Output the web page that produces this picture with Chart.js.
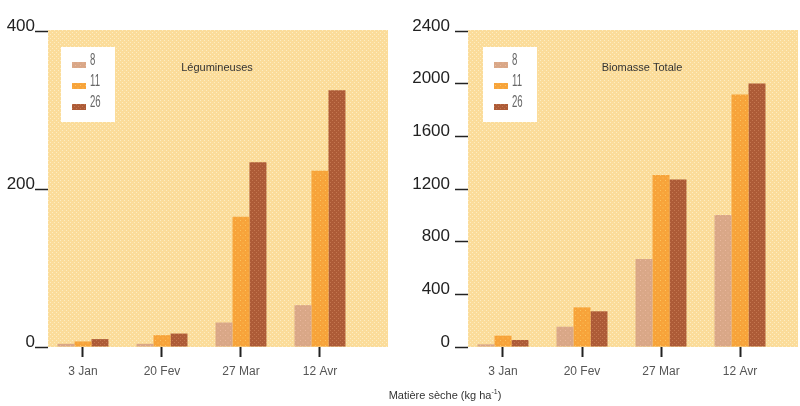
<!DOCTYPE html>
<html>
<head>
<meta charset="utf-8">
<script src="https://cdn.jsdelivr.net/npm/chart.js@4/dist/chart.umd.min.js"></script>
<style>
  body { margin: 0; background: #fff; }
  #page { position: relative; width: 800px; height: 406px; overflow: hidden; }
  .bloc { position: absolute; top: 0; width: 400px; height: 406px; }
  #axeX {
    position: absolute; left: 345px; width: 200px; top: 388px;
    text-align: center; font: 11px 'Liberation Sans', sans-serif; color: #333;
  }
  #axeX sup { font-size: 7px; }
</style>
</head>
<body>
<div id="page">
  <div class="bloc" style="left:0"><canvas id="legum" width="400" height="406"></canvas></div>
  <div class="bloc" style="left:400px"><canvas id="biom" width="400" height="406"></canvas></div>
  <div id="axeX">Matière sèche (kg ha<sup>-1</sup>)</div>
</div>
<script>
// dates de prélèvement et séries (8, 11, 26)
const dates = ['3 Jan', '20 Fev', '27 Mar', '12 Avr'];
const series = ['8', '11', '26'];

// Légumineuses
const legum8 = [4, 4, 31, 53];
const legum11 = [7, 15, 165, 223];
const legum26 = [10, 17, 234, 325];
const legumTicks = [0, 200, 400];

// Biomasse totale
const biom8 = [20, 154, 668, 1002];
const biom11 = [86, 301, 1306, 1918];
const biom26 = [53, 271, 1273, 2002];
const biomTicks = [0, 400, 800, 1200, 1600, 2000, 2400];

const police = "'Liberation Sans', Arial, sans-serif";

//------ petites trames pointillées ------//
function trame(fond, point, pas) {
  const c = document.createElement('canvas');
  c.width = pas; c.height = pas;
  const g = c.getContext('2d');
  g.fillStyle = fond;
  g.fillRect(0, 0, pas, pas);
  g.fillStyle = point;
  g.fillRect(0, 0, 1, 1);
  g.fillRect(pas / 2, pas / 2, 1, 1);
  return g.createPattern(c, 'repeat');
}
const fondTrame = trame('#fbdc9a', '#fdedc2', 4);
const couleurs = [
  trame('#d9a787', '#eab79d', 5),
  trame('#f7a33a', '#fcc35e', 5),
  trame('#ad5b37', '#c47650', 4)
];

//------ fond, légende et titre dans la zone du graphe ------//
const decor = {
  id: 'decor',
  beforeDraw(chart) {
    const a = chart.chartArea, ctx = chart.ctx;
    ctx.save();
    ctx.fillStyle = fondTrame;
    ctx.fillRect(a.left, a.top - 1, a.right - a.left, a.bottom - a.top + 1);
    ctx.restore();
  },
  afterDraw(chart, args, opts) {
    const a = chart.chartArea, ctx = chart.ctx;
    ctx.save();
    // boîte de légende
    const bx = a.left + opts.legendeX, by = a.top + 16;
    ctx.fillStyle = '#fff';
    ctx.fillRect(bx, by, 54, 75);
    ctx.textBaseline = 'bottom';
    ctx.textAlign = 'left';
    chart.data.datasets.forEach((ds, i) => {
      const y = by + 21 + i * 21;
      ctx.fillStyle = ds.backgroundColor;
      ctx.fillRect(bx + 11, y - 6, 14, 6);
      // chiffres étroits et hauts
      ctx.save();
      ctx.translate(bx + 29, y + 1);
      ctx.scale(0.6, 1);
      ctx.font = '16px ' + police;
      ctx.fillStyle = '#666';
      ctx.fillText(ds.label, 0, 0);
      ctx.restore();
    });
    // titre
    ctx.fillStyle = '#333';
    ctx.font = '11px ' + police;
    ctx.textAlign = 'center';
    ctx.textBaseline = 'middle';
    ctx.fillText(opts.titre, a.left + opts.titreX, a.top + 37);
    ctx.restore();
  }
};

function graphe(id, valeurs, graduations, largeurY, xMax, padDroite, tickPad, titre, titreX, legendeX) {
  return new Chart(document.getElementById(id), {
    type: 'bar',
    data: {
      labels: dates.map((d, i) => i),
      datasets: valeurs.map((v, i) => ({
        label: series[i],
        data: v,
        backgroundColor: couleurs[i],
        borderWidth: 0,
        barPercentage: 1,
        categoryPercentage: 0.645
      }))
    },
    options: {
      responsive: false,
      animation: false,
      devicePixelRatio: 1,
      layout: { padding: { top: 31, right: padDroite, left: 0, bottom: 0 } },
      plugins: {
        legend: { display: false },
        tooltip: { enabled: false },
        decor: { titre: titre, titreX: titreX, legendeX: legendeX }
      },
      scales: {
        x: {
          type: 'linear',
          offset: false,
          min: -0.443,
          max: xMax,
          afterBuildTicks: s => { s.ticks = dates.map((d, i) => ({ value: i })); },
          afterFit: s => { s.height = 59; },
          ticks: {
            includeBounds: false,
            callback: v => dates[v],
            padding: 7,
            color: '#555',
            font: { family: police, size: 12 },
            maxRotation: 0
          },
          grid: { drawOnChartArea: false, offset: false, tickLength: 10, tickWidth: 2, tickColor: '#222' },
          border: { display: false }
        },
        y: {
          min: 0,
          max: graduations[graduations.length - 1],
          afterBuildTicks: s => { s.ticks = graduations.map(v => ({ value: v })); },
          afterFit: s => { s.width = largeurY; },
          ticks: {
            padding: tickPad,
            labelOffset: -5,
            callback: v => String(v),
            color: '#222',
            font: { family: police, size: 17 }
          },
          grid: { drawOnChartArea: false, tickLength: 13, tickWidth: 1.5, tickColor: '#222' },
          border: { display: false }
        }
      }
    },
    plugins: [decor]
  });
}

graphe('legum', [legum8, legum11, legum26], legumTicks, 48, 3.861, 12, 0, 'Légumineuses', 169, 13);
graphe('biom', [biom8, biom11, biom26], biomTicks, 68, 3.734, 2, 5, 'Biomasse Totale', 174, 15);
</script>
</body>
</html>
